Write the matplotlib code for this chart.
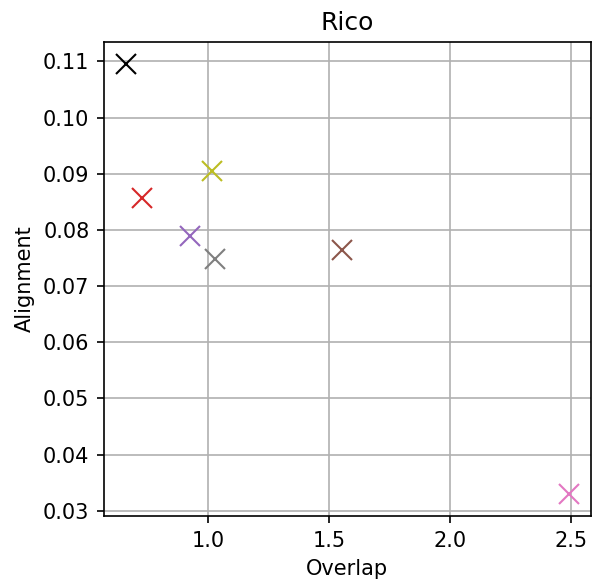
import matplotlib
matplotlib.use("Agg")
import matplotlib.pyplot as plt
from matplotlib.ticker import MultipleLocator

overlap = [0.663, 0.728, 1.016, 0.926, 1.029, 1.556, 2.49]
alignment = [0.1096, 0.0856, 0.0904, 0.0789, 0.0749, 0.0764, 0.0329]
colors = ["black", "tab:red", "tab:olive", "tab:purple", "tab:gray", "tab:brown", "tab:pink"]

fig, ax = plt.subplots(figsize=(592 / 150, 584 / 150), dpi=150)
for x, y, c in zip(overlap, alignment, colors):
    ax.plot(x, y, marker="x", color=c, markersize=10, linestyle="none")
ax.xaxis.set_major_locator(MultipleLocator(0.5))
ax.grid(True)
ax.set_axisbelow(True)
ax.set_title("Rico")
ax.set_xlabel("Overlap")
ax.set_ylabel("Alignment")
fig.subplots_adjust(left=0.1757, right=0.998, top=0.928, bottom=0.1164)
fig.savefig("out.png", dpi=150)
